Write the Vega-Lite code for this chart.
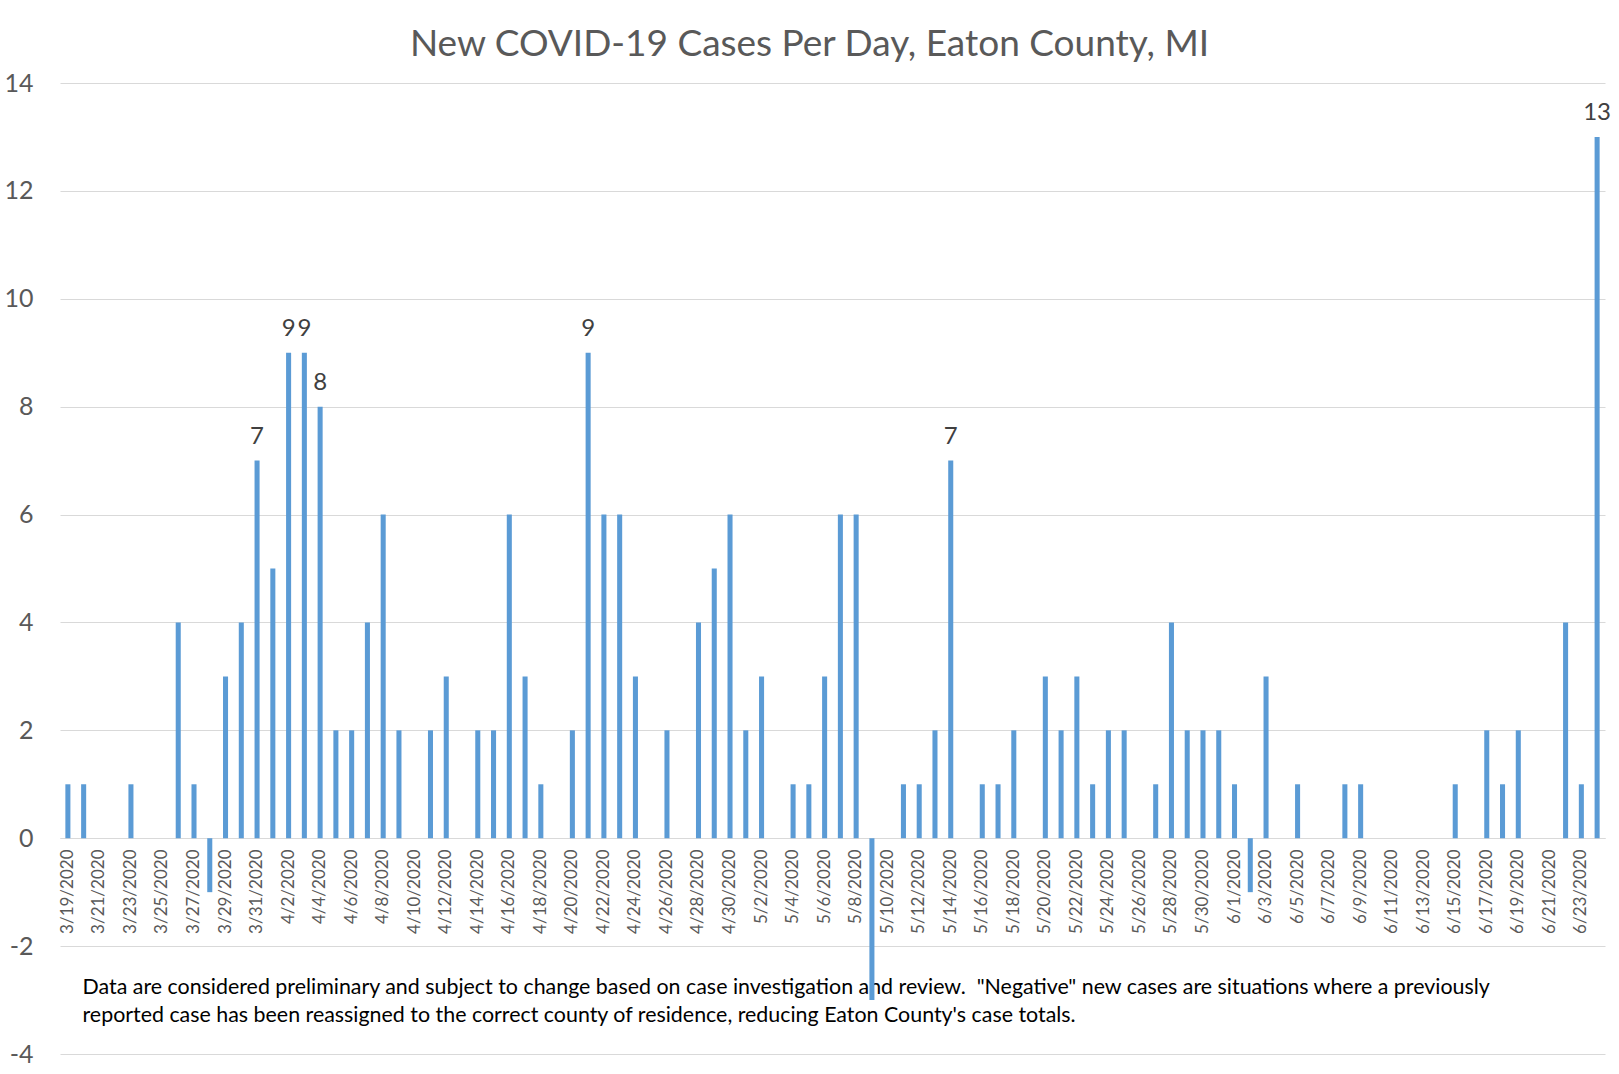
{
  "$schema": "https://vega.github.io/schema/vega-lite/v6.json",
  "width": 1545,
  "height": 971,
  "autosize": "none",
  "padding": {"left": 60, "top": 83, "right": 14, "bottom": 20},
  "background": "white",
  "view": {"stroke": null},
  "title": {
    "text": "New COVID-19 Cases Per Day, Eaton County, MI",
    "font": "Lato",
    "fontSize": 37,
    "fontWeight": "normal",
    "color": "#595959",
    "anchor": "middle",
    "baseline": "alphabetic",
    "offset": -22,
    "dx": -23
  },
  "data": {
    "values": [
      {"date": "3/19/2020", "cases": 1},
      {"date": "3/20/2020", "cases": 1},
      {"date": "3/21/2020", "cases": 0},
      {"date": "3/22/2020", "cases": 0},
      {"date": "3/23/2020", "cases": 1},
      {"date": "3/24/2020", "cases": 0},
      {"date": "3/25/2020", "cases": 0},
      {"date": "3/26/2020", "cases": 4},
      {"date": "3/27/2020", "cases": 1},
      {"date": "3/28/2020", "cases": -1},
      {"date": "3/29/2020", "cases": 3},
      {"date": "3/30/2020", "cases": 4},
      {"date": "3/31/2020", "cases": 7},
      {"date": "4/1/2020", "cases": 5},
      {"date": "4/2/2020", "cases": 9},
      {"date": "4/3/2020", "cases": 9},
      {"date": "4/4/2020", "cases": 8},
      {"date": "4/5/2020", "cases": 2},
      {"date": "4/6/2020", "cases": 2},
      {"date": "4/7/2020", "cases": 4},
      {"date": "4/8/2020", "cases": 6},
      {"date": "4/9/2020", "cases": 2},
      {"date": "4/10/2020", "cases": 0},
      {"date": "4/11/2020", "cases": 2},
      {"date": "4/12/2020", "cases": 3},
      {"date": "4/13/2020", "cases": 0},
      {"date": "4/14/2020", "cases": 2},
      {"date": "4/15/2020", "cases": 2},
      {"date": "4/16/2020", "cases": 6},
      {"date": "4/17/2020", "cases": 3},
      {"date": "4/18/2020", "cases": 1},
      {"date": "4/19/2020", "cases": 0},
      {"date": "4/20/2020", "cases": 2},
      {"date": "4/21/2020", "cases": 9},
      {"date": "4/22/2020", "cases": 6},
      {"date": "4/23/2020", "cases": 6},
      {"date": "4/24/2020", "cases": 3},
      {"date": "4/25/2020", "cases": 0},
      {"date": "4/26/2020", "cases": 2},
      {"date": "4/27/2020", "cases": 0},
      {"date": "4/28/2020", "cases": 4},
      {"date": "4/29/2020", "cases": 5},
      {"date": "4/30/2020", "cases": 6},
      {"date": "5/1/2020", "cases": 2},
      {"date": "5/2/2020", "cases": 3},
      {"date": "5/3/2020", "cases": 0},
      {"date": "5/4/2020", "cases": 1},
      {"date": "5/5/2020", "cases": 1},
      {"date": "5/6/2020", "cases": 3},
      {"date": "5/7/2020", "cases": 6},
      {"date": "5/8/2020", "cases": 6},
      {"date": "5/9/2020", "cases": -3},
      {"date": "5/10/2020", "cases": 0},
      {"date": "5/11/2020", "cases": 1},
      {"date": "5/12/2020", "cases": 1},
      {"date": "5/13/2020", "cases": 2},
      {"date": "5/14/2020", "cases": 7},
      {"date": "5/15/2020", "cases": 0},
      {"date": "5/16/2020", "cases": 1},
      {"date": "5/17/2020", "cases": 1},
      {"date": "5/18/2020", "cases": 2},
      {"date": "5/19/2020", "cases": 0},
      {"date": "5/20/2020", "cases": 3},
      {"date": "5/21/2020", "cases": 2},
      {"date": "5/22/2020", "cases": 3},
      {"date": "5/23/2020", "cases": 1},
      {"date": "5/24/2020", "cases": 2},
      {"date": "5/25/2020", "cases": 2},
      {"date": "5/26/2020", "cases": 0},
      {"date": "5/27/2020", "cases": 1},
      {"date": "5/28/2020", "cases": 4},
      {"date": "5/29/2020", "cases": 2},
      {"date": "5/30/2020", "cases": 2},
      {"date": "5/31/2020", "cases": 2},
      {"date": "6/1/2020", "cases": 1},
      {"date": "6/2/2020", "cases": -1},
      {"date": "6/3/2020", "cases": 3},
      {"date": "6/4/2020", "cases": 0},
      {"date": "6/5/2020", "cases": 1},
      {"date": "6/6/2020", "cases": 0},
      {"date": "6/7/2020", "cases": 0},
      {"date": "6/8/2020", "cases": 1},
      {"date": "6/9/2020", "cases": 1},
      {"date": "6/10/2020", "cases": 0},
      {"date": "6/11/2020", "cases": 0},
      {"date": "6/12/2020", "cases": 0},
      {"date": "6/13/2020", "cases": 0},
      {"date": "6/14/2020", "cases": 0},
      {"date": "6/15/2020", "cases": 1},
      {"date": "6/16/2020", "cases": 0},
      {"date": "6/17/2020", "cases": 2},
      {"date": "6/18/2020", "cases": 1},
      {"date": "6/19/2020", "cases": 2},
      {"date": "6/20/2020", "cases": 0},
      {"date": "6/21/2020", "cases": 0},
      {"date": "6/22/2020", "cases": 4},
      {"date": "6/23/2020", "cases": 1},
      {"date": "6/24/2020", "cases": 13}
    ]
  },
  "encoding": {
    "x": {
      "field": "date",
      "type": "nominal",
      "sort": null,
      "scale": {"paddingInner": 0.68, "paddingOuter": 0.34},
      "axis": {
        "title": [
          "Data are considered preliminary and subject to change based on case investigation and review.\u00a0 \"Negative\" new cases are situations where a previously",
          "reported case has been reassigned to the correct county of residence, reducing Eaton County's case totals."
        ],
        "titleFont": "Lato",
        "titleFontSize": 21.4,
        "titleFontWeight": "normal",
        "titleColor": "#000000",
        "titleAnchor": "start",
        "titleAlign": "left",
        "titleBaseline": "alphabetic",
        "titleLineHeight": 28,
        "titleX": 22,
        "titleY": 155,
        "offset": -216,
        "labelAngle": -90,
        "labelFont": "Lato",
        "labelFontSize": 17,
        "labelColor": "#595959",
        "labelPadding": 11,
        "ticks": false,
        "domainColor": "#d9d9d9",
        "domainWidth": 1,
        "labelOverlap": false,
        "values": [
          "3/19/2020", "3/21/2020", "3/23/2020", "3/25/2020", "3/27/2020", "3/29/2020", "3/31/2020",
          "4/2/2020", "4/4/2020", "4/6/2020", "4/8/2020", "4/10/2020", "4/12/2020", "4/14/2020",
          "4/16/2020", "4/18/2020", "4/20/2020", "4/22/2020", "4/24/2020", "4/26/2020", "4/28/2020",
          "4/30/2020", "5/2/2020", "5/4/2020", "5/6/2020", "5/8/2020", "5/10/2020", "5/12/2020",
          "5/14/2020", "5/16/2020", "5/18/2020", "5/20/2020", "5/22/2020", "5/24/2020", "5/26/2020",
          "5/28/2020", "5/30/2020", "6/1/2020", "6/3/2020", "6/5/2020", "6/7/2020", "6/9/2020",
          "6/11/2020", "6/13/2020", "6/15/2020", "6/17/2020", "6/19/2020", "6/21/2020", "6/23/2020"
        ]
      }
    },
    "y": {
      "field": "cases",
      "type": "quantitative",
      "scale": {"domain": [-4, 14], "nice": false},
      "axis": {
        "title": null,
        "values": [-4, -2, 0, 2, 4, 6, 8, 10, 12, 14],
        "labelExpr": "'' + datum.value",
        "domain": false,
        "ticks": false,
        "gridColor": "#d9d9d9",
        "gridWidth": 1,
        "labelFont": "Lato",
        "labelFontSize": 25,
        "labelColor": "#595959",
        "labelPadding": 27
      }
    }
  },
  "layer": [
    {
      "mark": {"type": "bar", "color": "#5b9bd5"}
    },
    {
      "transform": [{"filter": "datum.cases >= 7"}],
      "mark": {
        "type": "text",
        "font": "Lato",
        "fontSize": 24,
        "color": "#404040",
        "baseline": "alphabetic",
        "dy": -17
      },
      "encoding": {
        "text": {"field": "cases", "type": "quantitative"}
      }
    }
  ]
}
